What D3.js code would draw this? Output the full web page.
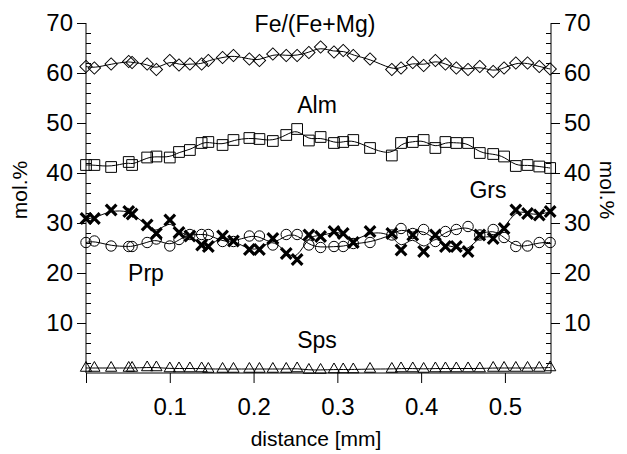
<!DOCTYPE html>
<html>
<head>
<meta charset="utf-8">
<script src="https://cdn.jsdelivr.net/npm/d3@7"></script>
<style>
  body { margin: 0; background: #fff; }
  text { font-family: "Liberation Sans", Arial, sans-serif; fill: #000; }
</style>
</head>
<body>
<div id="chart"></div>
<script>
// measurement positions along the traverse (mm)
const distance = [0, 0.010, 0.030, 0.051, 0.055, 0.073, 0.084, 0.100, 0.111, 0.124,
  0.138, 0.146, 0.163, 0.176, 0.195, 0.207, 0.223, 0.239, 0.252, 0.266,
  0.280, 0.296, 0.307, 0.319, 0.339, 0.365, 0.376, 0.390, 0.403, 0.417,
  0.429, 0.442, 0.456, 0.470, 0.486, 0.499, 0.513, 0.527, 0.541, 0.554]

const feMg = [61.3, 61.0, 61.8, 62.3, 62.1, 61.8, 60.7, 62.5, 61.6, 61.8,
  61.8, 62.5, 63.1, 63.5, 62.8, 62.5, 63.8, 63.5, 63.5, 64.1,
  65.2, 64.2, 64.5, 63.5, 62.8, 60.7, 61.0, 62.1, 61.5, 62.5,
  61.8, 61.0, 60.7, 61.3, 60.3, 61.0, 62.0, 62.0, 61.3, 60.8]

const alm = [41.6, 41.6, 41.2, 42.2, 41.6, 43.1, 43.3, 43.1, 44.2, 44.6,
  46.0, 46.2, 45.6, 46.6, 47.0, 46.8, 46.4, 47.6, 48.8, 46.5,
  47.2, 46.0, 46.2, 46.6, 45.0, 43.5, 46.0, 46.2, 46.6, 45.0,
  46.2, 46.0, 46.0, 44.0, 43.8, 43.3, 41.4, 41.6, 41.3, 41.0]

const prp = [26.1, 26.4, 25.4, 25.3, 25.3, 26.1, 26.8, 25.4, 26.7, 27.7,
  27.7, 27.7, 26.3, 26.3, 27.4, 27.4, 25.6, 27.7, 27.7, 25.6,
  25.1, 25.3, 25.3, 25.9, 26.1, 27.6, 28.9, 27.9, 28.7, 26.3,
  28.3, 28.7, 29.3, 27.6, 28.7, 27.1, 25.3, 25.4, 26.1, 26.1]

const grs = [30.9, 30.9, 32.6, 32.3, 31.8, 29.6, 27.9, 30.6, 28.1, 27.4,
  25.6, 25.3, 27.4, 26.4, 24.7, 24.7, 26.9, 23.9, 22.7, 27.6,
  27.3, 28.3, 27.9, 26.1, 28.3, 27.9, 24.6, 27.6, 24.3, 27.6,
  25.3, 25.3, 24.3, 27.6, 26.9, 28.9, 32.6, 31.9, 31.6, 32.3]

const sps = [1.0, 1.0, 1.0, 1.0, 1.0, 1.1, 1.1, 0.9, 0.9, 0.9,
  0.9, 0.8, 0.8, 0.8, 0.8, 0.8, 0.8, 0.8, 0.9, 0.6,
  0.6, 0.7, 0.7, 0.7, 0.8, 0.8, 0.9, 0.9, 0.8, 0.9,
  0.9, 0.9, 0.9, 0.9, 1.0, 1.0, 1.0, 1.0, 1.0, 1.1]

const xTicks = [0.1, 0.2, 0.3, 0.4, 0.5]
const yTicks = [10, 20, 30, 40, 50, 60, 70]

const width = 627
const height = 454
const margin = { left: 86, right: 76, top: 23, bottom: 81 }

const svg = d3.select('#chart').append('svg')
  .attr('width', width)
  .attr('height', height)

const x = d3.scaleLinear().domain([0, 0.555]).range([margin.left, width - margin.right])
const y = d3.scaleLinear().domain([0, 70]).range([height - margin.bottom, margin.top])

// axes
const fs = 24
const minorTicks = d3.range(2, 70, 2).filter(v => v % 10)

const left = svg.append('g').attr('transform', `translate(${margin.left},0)`)
left.call(d3.axisLeft(y).tickValues(yTicks).tickSize(9).tickPadding(4).tickFormat(d3.format('d')))
const leftMinor = svg.append('g').attr('transform', `translate(${margin.left},0)`)
leftMinor.call(d3.axisRight(y).tickValues(minorTicks).tickSize(5).tickFormat(''))

const right = svg.append('g').attr('transform', `translate(${width - margin.right},0)`)
right.call(d3.axisRight(y).tickValues(yTicks).tickSize(9).tickPadding(4).tickFormat(d3.format('d')))
const rightMinor = svg.append('g').attr('transform', `translate(${width - margin.right},0)`)
rightMinor.call(d3.axisLeft(y).tickValues(minorTicks).tickSize(5).tickFormat(''))

const bottom = svg.append('g').attr('transform', `translate(0,${y(0)})`)
bottom.call(d3.axisBottom(x).tickValues([0].concat(xTicks)).tickSize(10).tickPadding(15)
  .tickFormat(d => d === 0 ? '' : d3.format('.1f')(d)))

leftMinor.select('.domain').remove()
rightMinor.select('.domain').remove()
svg.selectAll('.domain').attr('stroke', '#000')
svg.selectAll('.tick line').attr('stroke', '#000')
svg.selectAll('.tick text').style('font-size', fs + 'px').attr('fill', '#000')
// plain axis lines without end caps
left.select('.domain').attr('d', `M0,${y(70)}V${y(0)}`)
right.select('.domain').attr('d', `M0,${y(70)}V${y(0)}`)
bottom.select('.domain').attr('d', `M${x(0)},0H${x(0.555)}`)

// series
const series = [
  { name: 'fe', values: feMg, symbol: d3.symbolSquare, size: 76, rotate: 45, sw: 1 },
  { name: 'alm', values: alm, symbol: d3.symbolSquare, size: 115, rotate: 0, sw: 1 },
  { name: 'prp', values: prp, symbol: d3.symbolCircle, size: 85, rotate: 0, sw: 1 },
  { name: 'grs', values: grs, symbol: d3.symbolX, size: 75, rotate: 0, sw: 3.2 },
  { name: 'sps', values: sps, symbol: d3.symbolTriangle, size: 55, rotate: 0, sw: 1 }
]

const line = d3.line()
  .x((d, i) => x(distance[i]))
  .y(d => y(d))
  .curve(d3.curveBasis)

series.forEach(s => {
  svg.append('path')
    .datum(s.values)
    .attr('fill', 'none')
    .attr('stroke', '#000')
    .attr('stroke-width', 1)
    .attr('d', line)

  svg.append('g')
    .selectAll('path')
    .data(s.values)
    .enter()
    .append('path')
    .attr('transform', (d, i) => `translate(${x(distance[i])},${y(d)}) rotate(${s.rotate})`)
    .attr('d', d3.symbol().type(s.symbol).size(s.size))
    .attr('fill', 'none')
    .attr('stroke', '#000')
    .attr('stroke-width', s.sw)
})

// labels
const labels = [
  { t: 'Fe/(Fe+Mg)', x: 315, y: 32 },
  { t: 'Alm', x: 317, y: 113 },
  { t: 'Grs', x: 488, y: 198 },
  { t: 'Prp', x: 146, y: 281 },
  { t: 'Sps', x: 317, y: 348 }
]
svg.selectAll('.lbl').data(labels).enter().append('text')
  .attr('class', 'lbl')
  .attr('x', d => d.x)
  .attr('y', d => d.y)
  .attr('text-anchor', 'middle')
  .style('font-size', '23px')
  .text(d => d.t)

svg.append('text')
  .attr('x', 316)
  .attr('y', 446)
  .attr('text-anchor', 'middle')
  .style('font-size', '21px')
  .text('distance [mm]')

svg.append('text')
  .attr('transform', 'translate(27,190) rotate(-90)')
  .attr('text-anchor', 'middle')
  .style('font-size', '21px')
  .text('mol.%')

svg.append('text')
  .attr('transform', 'translate(600,190) rotate(90)')
  .attr('text-anchor', 'middle')
  .style('font-size', '21px')
  .text('mol.%')
</script>
</body>
</html>
